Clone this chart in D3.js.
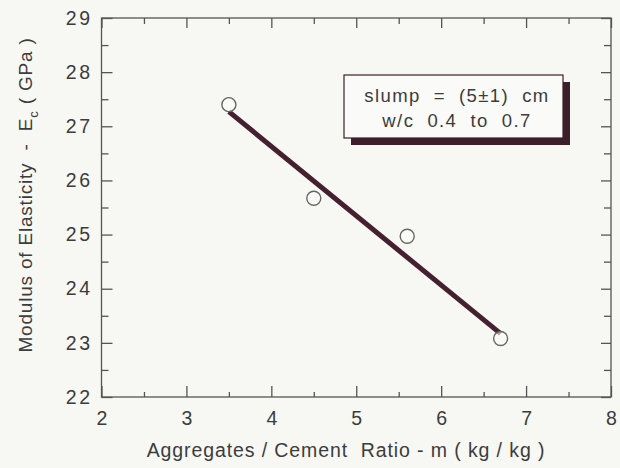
<!DOCTYPE html>
<html>
<head>
<meta charset="utf-8">
<script src="https://cdn.jsdelivr.net/npm/d3@7"></script>
<style>
  html, body { margin: 0; padding: 0; background: #f7f7f4; }
  svg { display: block; }
  text { font-family: "Liberation Sans", Arial, Helvetica, sans-serif; fill: #3c3c3c; }
</style>
</head>
<body>
<svg id="chart" width="620" height="468"></svg>
<script>
// ---- data ----
const ratioM = [3.5, 4.5, 5.6, 6.7];
const modulusEc = [27.4, 25.67, 24.97, 23.08];
const fitM = [3.5, 6.7];
const fitEc = [27.27, 23.17];
const xTickValues = [2, 3, 4, 5, 6, 7, 8];
const yTickValues = [22, 23, 24, 25, 26, 27, 28, 29];
const xMinorTicks = [2.5, 3.5, 4.5, 5.5, 6.5, 7.5];
const yMinorTicks = [22.5, 23.5, 24.5, 25.5, 26.5, 27.5, 28.5];
const legendLines = ["slump  =  (5\u00B11)  cm", "w/c  0.4  to  0.7"];

// ---- layout ----
const svg = d3.select("#chart");
const L = 101.5, R = 611, T = 18, B = 397;
const x = d3.scaleLinear().domain([2, 8]).range([L, R]);
const y = d3.scaleLinear().domain([22, 29]).range([B, T]);
const axisColor = "#555";

// frame
svg.append("rect").attr("x", L).attr("y", T).attr("width", R - L).attr("height", B - T)
  .attr("fill", "none").attr("stroke", axisColor).attr("stroke-width", 1.3);

function styleAxis(g) {
  g.select(".domain").remove();
  g.selectAll(".tick line").attr("stroke", axisColor).attr("stroke-width", 1.3);
}

// bottom axis major with labels
svg.append("g").attr("transform", `translate(0,${B})`)
  .call(d3.axisBottom(x).tickValues(xTickValues).tickSize(-11).tickPadding(14).tickFormat(d3.format("d")))
  .call(styleAxis)
  .call(g => g.selectAll("text").attr("font-size", 19.5).attr("fill", "#3c3c3c")
      .attr("font-family", "Liberation Sans, Arial, sans-serif"));
svg.append("g").attr("transform", `translate(0,${B})`)
  .call(d3.axisBottom(x).tickValues(xMinorTicks).tickSize(-5).tickFormat(""))
  .call(styleAxis);
// top axis
svg.append("g").attr("transform", `translate(0,${T})`)
  .call(d3.axisTop(x).tickValues(xTickValues).tickSize(-10).tickFormat(""))
  .call(styleAxis);
svg.append("g").attr("transform", `translate(0,${T})`)
  .call(d3.axisTop(x).tickValues(xMinorTicks).tickSize(-6).tickFormat(""))
  .call(styleAxis);
// left axis
svg.append("g").attr("transform", `translate(${L},0)`)
  .call(d3.axisLeft(y).tickValues(yTickValues).tickSize(-11).tickPadding(9).tickFormat(d3.format("d")))
  .call(styleAxis)
  .call(g => g.selectAll("text").attr("font-size", 19.5).attr("fill", "#3c3c3c")
      .attr("letter-spacing", "2.5px")
      .attr("font-family", "Liberation Sans, Arial, sans-serif"));
svg.append("g").attr("transform", `translate(${L},0)`)
  .call(d3.axisLeft(y).tickValues(yMinorTicks).tickSize(-7).tickFormat(""))
  .call(styleAxis);
// right axis
svg.append("g").attr("transform", `translate(${R},0)`)
  .call(d3.axisRight(y).tickValues(yTickValues).tickSize(-10).tickFormat(""))
  .call(styleAxis);
svg.append("g").attr("transform", `translate(${R},0)`)
  .call(d3.axisRight(y).tickValues(yMinorTicks).tickSize(-7).tickFormat(""))
  .call(styleAxis);

// fit line
const line = d3.line().x(d => x(d[0])).y(d => y(d[1]));
svg.append("path").datum(d3.zip(fitM, fitEc))
  .attr("d", line).attr("fill", "none").attr("stroke", "#45202e")
  .attr("stroke-width", 5).attr("stroke-linecap", "butt");

// points
svg.append("g").selectAll("circle").data(d3.zip(ratioM, modulusEc)).join("circle")
  .attr("cx", d => x(d[0])).attr("cy", d => y(d[1])).attr("r", 7)
  .attr("fill", "#fbfbf9").attr("fill-opacity", 0.6)
  .attr("stroke", "#666").attr("stroke-width", 1.4);

// legend box
const lg = svg.append("g");
lg.append("rect").attr("x", 351).attr("y", 82).attr("width", 219).attr("height", 63)
  .attr("fill", "#3d1f2b");
lg.append("rect").attr("x", 344).attr("y", 75).attr("width", 219).attr("height", 63)
  .attr("fill", "#fafaf8").attr("stroke", "#3d1f2b").attr("stroke-width", 1.2);
lg.selectAll("text").data(legendLines).join("text")
  .attr("x", 457).attr("y", (d, i) => 102 + i * 25)
  .attr("text-anchor", "middle").attr("font-size", 18.5).attr("letter-spacing", "1.4px")
  .attr("xml:space", "preserve").style("white-space", "pre")
  .text(d => d);

// x title
svg.append("text").attr("x", 346).attr("y", 457).attr("text-anchor", "middle")
  .attr("font-size", 19.5).attr("letter-spacing", "0.9px").style("white-space", "pre")
  .text("Aggregates / Cement  Ratio - m ( kg / kg )");

// y title
const yt = svg.append("text").attr("transform", "translate(32,195) rotate(-90)")
  .attr("text-anchor", "middle").attr("font-size", 19).attr("letter-spacing", "0.8px")
  .style("white-space", "pre");
yt.append("tspan").text("Modulus of Elasticity  -  E");
yt.append("tspan").attr("font-size", 13).attr("dy", 6).text("c");
yt.append("tspan").attr("dy", -6).text(" ( GPa )");
</script>
</body>
</html>
